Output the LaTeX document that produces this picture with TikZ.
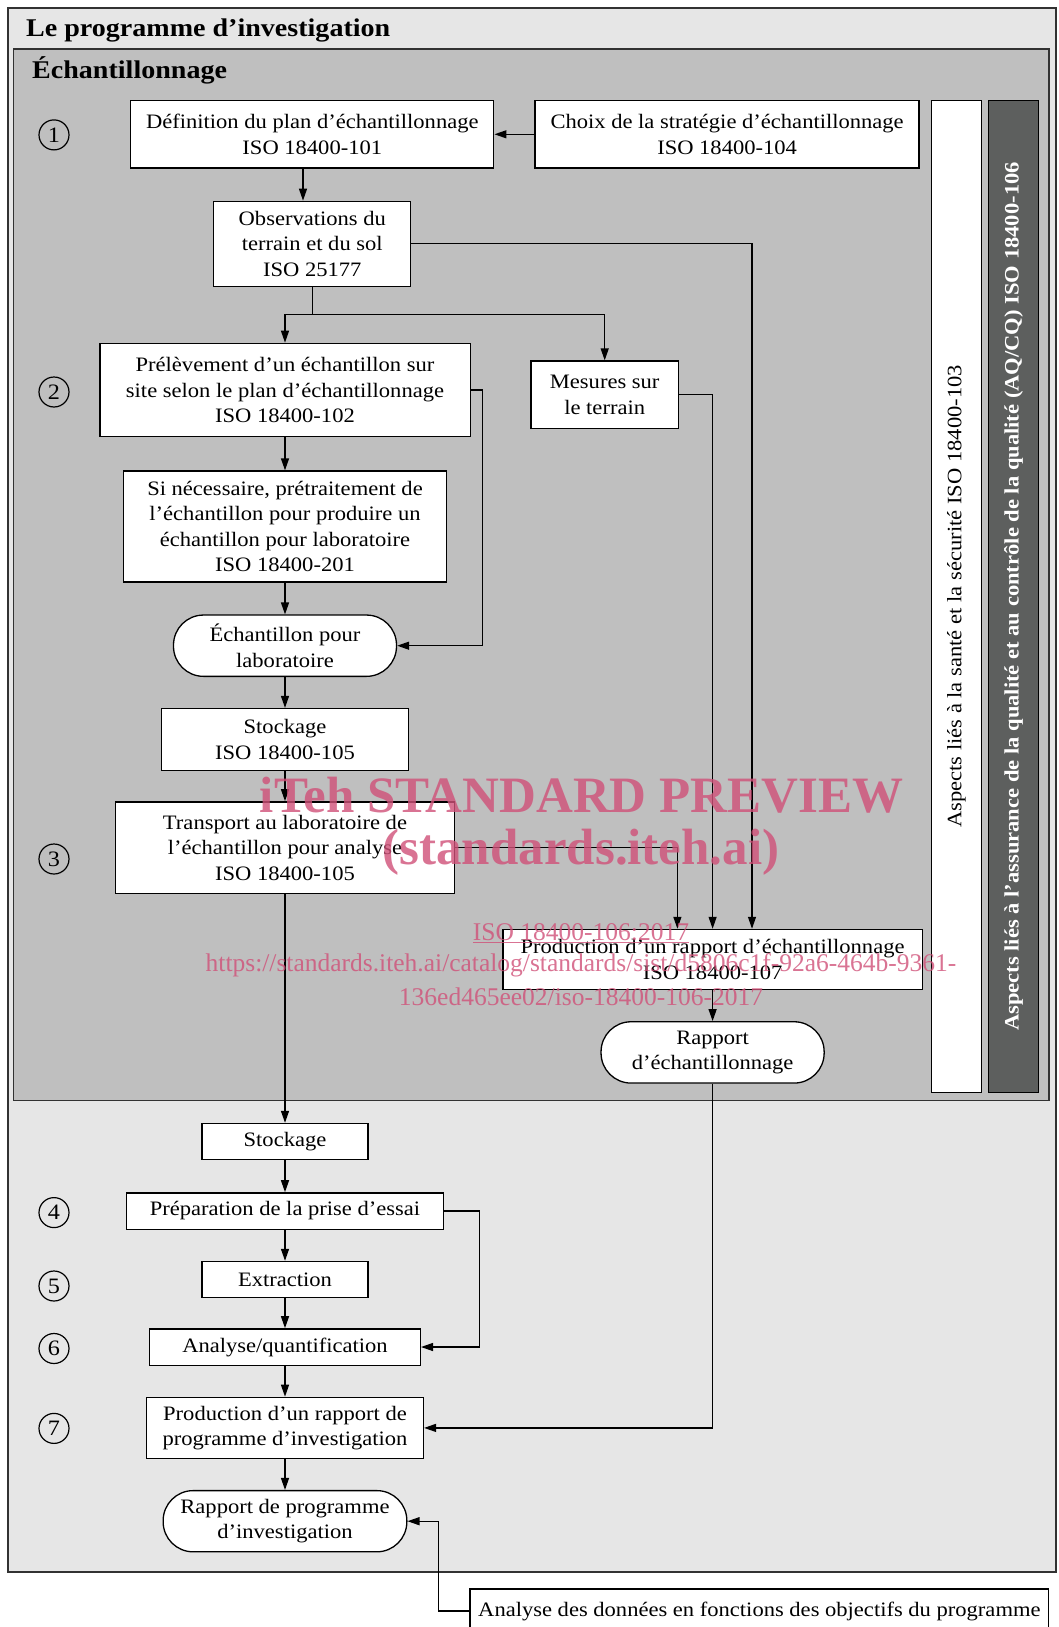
\documentclass[tikz,border=0pt]{standalone}
\usepackage{fontspec}
\setmainfont{Liberation Serif}[FakeStretch=1.1]
\newfontfamily\wmfont{Liberation Serif}
\usetikzlibrary{arrows.meta}
\definecolor{outerbg}{RGB}{230,230,230}
\definecolor{innerbg}{RGB}{191,191,191}
\definecolor{darkbar}{RGB}{93,95,94}
\definecolor{framecol}{RGB}{50,50,50}
\definecolor{wm}{RGB}{208,80,120}
\begin{document}
\begin{tikzpicture}[x=1pt,y=-1pt,
  box/.style={draw, fill=white, line width=1.3pt, inner sep=0pt, align=center,
    font=\fontsize{20.5}{25.5}\selectfont},
  term/.style={box, rounded corners=30pt},
  conn/.style={line width=1.3pt, -{Triangle[length=12pt,width=8pt]}},
  plain/.style={line width=1.3pt},
  num/.style={draw, circle, line width=1.2pt, minimum size=30pt, inner sep=0pt,
    font=\fontsize{22}{22}\selectfont},
  wmark/.style={text=wm, opacity=0.8, inner sep=0pt}]
\useasboundingbox (0,0) rectangle (1058,1627);
% frames
\draw[fill=outerbg, draw=framecol, line width=2pt] (8.3,8.3) rectangle (1056,1571.5);
\node[anchor=west, inner sep=0pt, font=\bfseries\fontsize{25.5}{25.5}\selectfont] (title) at (26,30) {Le programme d’investigation};
\draw[fill=innerbg, draw=framecol, line width=1.6pt] (13.5,48.8) rectangle (1048.7,1100.6);
\node[anchor=west, inner sep=0pt, font=\bfseries\fontsize{25.5}{25.5}\selectfont] (ech) at (32,70.5) {Échantillonnage};
% side bars
\node[box, rotate=90, minimum width=991.7pt, minimum height=49.8pt] (hs) at (956.4,596.5)
  {Aspects liés à la santé et la sécurité ISO 18400-103};
\node[box, fill=darkbar, text=white, font=\bfseries\fontsize{20.5}{25.5}\selectfont, rotate=90,
  minimum width=991.7pt, minimum height=49.8pt] (qa) at (1013.5,596.5)
  {Aspects liés à l’assurance de la qualité et au contrôle de la qualité (AQ/CQ) ISO 18400-106};
% numbers
\node[num] (n1) at (54,134.9) {1};
\node[num] (n2) at (54,392) {2};
\node[num] (n3) at (54,859) {3};
\node[num] (n4) at (54,1212.6) {4};
\node[num] (n5) at (54,1286) {5};
\node[num] (n6) at (54,1348.5) {6};
\node[num] (n7) at (54,1428.4) {7};
% boxes
\node[box, minimum width=363pt, minimum height=67.4pt] (def) at (312.3,134.3)
  {Définition du plan d’échantillonnage\\ISO 18400-101};
\node[box, minimum width=384pt, minimum height=67.4pt] (choix) at (727.1,134.3)
  {Choix de la stratégie d’échantillonnage\\ISO 18400-104};
\node[box, minimum width=197pt, minimum height=85pt] (obs) at (312.3,243.8)
  {Observations du\\terrain et du sol\\ISO 25177};
\node[box, minimum width=370.3pt, minimum height=93.4pt] (prel) at (285,390)
  {Prélèvement d’un échantillon sur\\site selon le plan d’échantillonnage\\ISO 18400-102};
\node[box, minimum width=147.4pt, minimum height=67.4pt] (mes) at (604.7,394.7)
  {Mesures sur\\le terrain};
\node[box, minimum width=322.6pt, minimum height=111pt] (sinec) at (285,526.5)
  {Si nécessaire, prétraitement de\\l’échantillon pour produire un\\échantillon pour laboratoire\\ISO 18400-201};
\node[term, minimum width=223pt, minimum height=61.3pt] (echlab) at (285,645.7)
  {Échantillon pour\\laboratoire};
\node[box, minimum width=247pt, minimum height=62.2pt] (stock1) at (285,739.6)
  {Stockage\\ISO 18400-105};
\node[box, minimum width=339.2pt, minimum height=91.3pt] (transp) at (285,847.5)
  {Transport au laboratoire de\\l’échantillon pour analyse\\ISO 18400-105};
\node[box, minimum width=419.2pt, minimum height=60.2pt] (prodech) at (712.6,959.5)
  {Production d’un rapport d’échantillonnage\\ISO 18400-107};
\node[term, minimum width=223.1pt, minimum height=61.3pt] (rapech) at (712.6,1052.4)
  {Rapport\\d’échantillonnage};
\node[box, minimum width=166pt, minimum height=36.3pt] (stock2) at (285,1141.6) {Stockage};
\node[box, minimum width=317.5pt, minimum height=36.3pt] (prep) at (285,1211) {Préparation de la prise d’essai};
\node[box, minimum width=166pt, minimum height=36.3pt] (extr) at (285,1279.6) {Extraction};
\node[box, minimum width=270.7pt, minimum height=36.3pt] (anal) at (285,1347) {Analyse/quantification};
\node[box, minimum width=276.9pt, minimum height=61.1pt] (prodprog) at (285,1427.9)
  {Production d’un rapport de\\programme d’investigation};
\node[term, minimum width=243.7pt, minimum height=61.2pt] (rapprog) at (285,1521.2)
  {Rapport de programme\\d’investigation};
\node[box, minimum width=578.7pt, minimum height=44pt] (donnees) at (759.4,1611)
  {Analyse des données en fonctions des objectifs du programme};
% connectors
\draw[conn] (choix.west) -- (def.east);
\draw[conn] ([xshift=-9.3pt]def.south) -- ([xshift=-9.3pt]def.south |- obs.north);
\coordinate (split) at (312.3,314.3);
\draw[plain] (obs.south) -- (split);
\draw[conn] (split) -| (prel.north);
\draw[conn] (split) -| (mes.north);
\draw[conn] (obs.east) -| ([xshift=39.4pt]prodech.north);
\draw[conn] (mes.east) -| (prodech.north);
\draw[conn] (transp.east) -| ([xshift=-35.2pt]prodech.north);
\draw[conn] (prel.east) -- ++(11.4,0) |- (echlab.east);
\draw[conn] (prel) -- (sinec);
\draw[conn] (sinec) -- (echlab);
\draw[conn] (echlab) -- (stock1);
\draw[conn] (stock1) -- (transp);
\draw[conn] (transp) -- (stock2);
\draw[conn] (prodech) -- (rapech);
\draw[conn] (stock2) -- (prep);
\draw[conn] (prep) -- (extr);
\draw[conn] (extr) -- (anal);
\draw[conn] (anal) -- (prodprog);
\draw[conn] (prodprog) -- (rapprog);
\draw[conn] (rapech.south) |- (prodprog.east);
\draw[conn] (prep.east) -- ++(35.2,0) |- (anal.east);
\draw[conn] (donnees.west) -- ++(-31.2,0) |- (rapprog.east);
% watermark
\node[wmark, font=\wmfont\bfseries\fontsize{51}{51}\selectfont] (wm1) at (581.5,795) {iTeh STANDARD PREVIEW};
\node[wmark, font=\wmfont\bfseries\fontsize{51}{51}\selectfont] (wm2) at (581,852.6) {(standards.iteh.ai)};
\node[wmark, font=\wmfont\fontsize{25.5}{25.5}\selectfont] (wm3) at (581,933.6) {\underline{ISO 18400-106:2017}};
\node[wmark, font=\wmfont\fontsize{25.5}{25.5}\selectfont] (wm4) at (581,965.7) {https://standards.iteh.ai/catalog/standards/sist/d5806c1f-92a6-464b-9361-};
\node[wmark, font=\wmfont\fontsize{25.5}{25.5}\selectfont] (wm5) at (581,996.8) {136ed465ee02/iso-18400-106-2017};
\end{tikzpicture}
\end{document}
